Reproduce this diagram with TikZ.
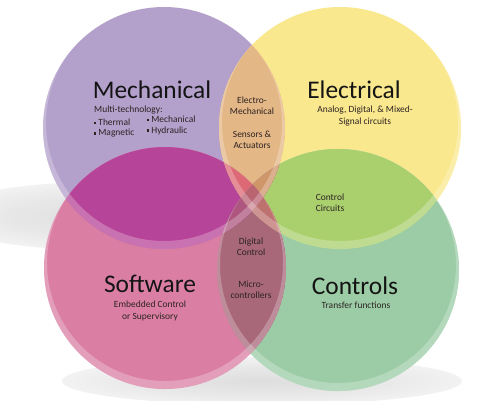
\documentclass[tikz,border=0pt]{standalone}
\usepackage{fontspec}
\setmainfont{Carlito}
% single regions
\definecolor{cMe}{RGB}{179,160,203}
\definecolor{cEl}{RGB}{250,232,142}
\definecolor{cSo}{RGB}{218,127,163}
\definecolor{cCo}{RGB}{156,204,166}
% pairwise
\definecolor{cME}{RGB}{228,183,134}
\definecolor{cMS}{RGB}{182,68,152}
\definecolor{cEC}{RGB}{170,208,110}
\definecolor{cSC}{RGB}{168,104,122}
% triples and four-way
\definecolor{cMES}{RGB}{222,105,118}
\definecolor{cMEC}{RGB}{207,150,106}
\definecolor{cMSC}{RGB}{174,86,128}
\definecolor{cESC}{RGB}{190,114,112}
\definecolor{cAll}{RGB}{186,100,114}
\definecolor{txtdark}{RGB}{20,20,20}
\definecolor{txtsmall}{RGB}{45,35,35}
\pgfdeclareradialshading{softshadow}{\pgfpoint{0bp}{0bp}}{color(0bp)=(black!13); color(15bp)=(black!9); color(30bp)=(black!3); color(42bp)=(white); color(50bp)=(white)}
\tikzset{
  rim/.style={white, opacity=0.25, even odd rule},
  title/.style={font=\fontsize{25.5}{30}\selectfont, text=txtdark, inner sep=0pt},
  small/.style={font=\fontsize{9.5}{11.5}\selectfont, text=txtsmall, inner sep=0pt, align=center},
  smallw/.style={small, anchor=west, align=left}
}
\newcommand{\sqb}{\raisebox{1.4bp}{\rule{2.2bp}{2.2bp}}\hspace{2bp}}
\newcommand{\cM}{(164,128) circle [radius=121bp]}
\newcommand{\cE}{(340,128) circle [radius=121bp]}
\newcommand{\cC}{(338,270) circle [radius=121bp]}
\newcommand{\cS}{(165,268) circle [radius=121bp]}
\begin{document}
\begin{tikzpicture}[x=1bp,y=-1bp]
\useasboundingbox (0,0) rectangle (486,400);
% shadows
\shade[shading=softshadow] (100,216) ellipse [x radius=160bp, y radius=34bp];
\shade[shading=softshadow] (262,381) ellipse [x radius=200bp, y radius=24bp];
% single circles
\fill[cMe] \cM;
\fill[cEl] \cE;
\fill[cCo] \cC;
\fill[cSo] \cS;
% pairwise overlaps
\begin{scope}\clip \cM; \fill[cME] \cE; \end{scope}
\begin{scope}\clip \cM; \fill[cMS] \cS; \end{scope}
\begin{scope}\clip \cE; \fill[cEC] \cC; \end{scope}
\begin{scope}\clip \cS; \fill[cSC] \cC; \end{scope}
\begin{scope}\clip \cM; \fill[cMS!50!cSC] \cC; \end{scope}
\begin{scope}\clip \cE; \fill[cME!50!cEC] \cS; \end{scope}
% triple overlaps
\begin{scope}\clip \cM; \clip \cE; \fill[cMES] \cS; \end{scope}
\begin{scope}\clip \cM; \clip \cE; \fill[cMEC] \cC; \end{scope}
\begin{scope}\clip \cM; \clip \cS; \fill[cMSC] \cC; \end{scope}
\begin{scope}\clip \cE; \clip \cS; \fill[cESC] \cC; \end{scope}
% four-way overlap
\begin{scope}\clip \cM; \clip \cE; \clip \cS; \fill[cAll] \cC; \end{scope}
% glossy rims
\begin{scope}\clip \cM; \fill[rim] \cM (164,123) circle [radius=118bp]; \end{scope}
\begin{scope}\clip \cE; \fill[rim] \cE (340,123) circle [radius=118bp]; \end{scope}
\begin{scope}\clip \cC; \fill[rim] \cC (338,265) circle [radius=118bp]; \end{scope}
\begin{scope}\clip \cS; \fill[rim] \cS (165,263) circle [radius=118bp]; \end{scope}
% titles
\node[title] (tM) at (152,90) {Mechanical};
\node[title] (tE) at (354,90) {Electrical};
\node[title] (tS) at (150,284) {Software};
\node[title] (tC) at (355,286) {Controls};
% Mechanical details
\node[smallw] (mt) at (94,110) {Multi-technology:};
\node[smallw] (b1) at (94,122) {\sqb Thermal};
\node[smallw] (b2) at (94,133.5) {\sqb Magnetic};
\node[smallw] (b3) at (147,119) {\sqb Mechanical};
\node[smallw] (b4) at (147,130.5) {\sqb Hydraulic};
% Electro-mechanical
\node[small] (em) at (252,106) {Electro-\\Mechanical};
\node[small] (sa) at (252,140) {Sensors \&\\Actuators};
% Electrical details
\node[small] (ea) at (365,116) {Analog, Digital, \& Mixed-\\Signal circuits};
% Control circuits
\node[small] (cc) at (330,202.5) {Control\\Circuits};
% Digital control
\node[small] (dc) at (251,246.5) {Digital\\Control};
\node[small] (mc) at (251,289.5) {Micro-\\controllers};
% Software details
\node[small] (sw) at (150,311) {Embedded Control\\or Supervisory};
% Controls details
\node[small] (tf) at (356,305) {Transfer functions};
\end{tikzpicture}
\end{document}
